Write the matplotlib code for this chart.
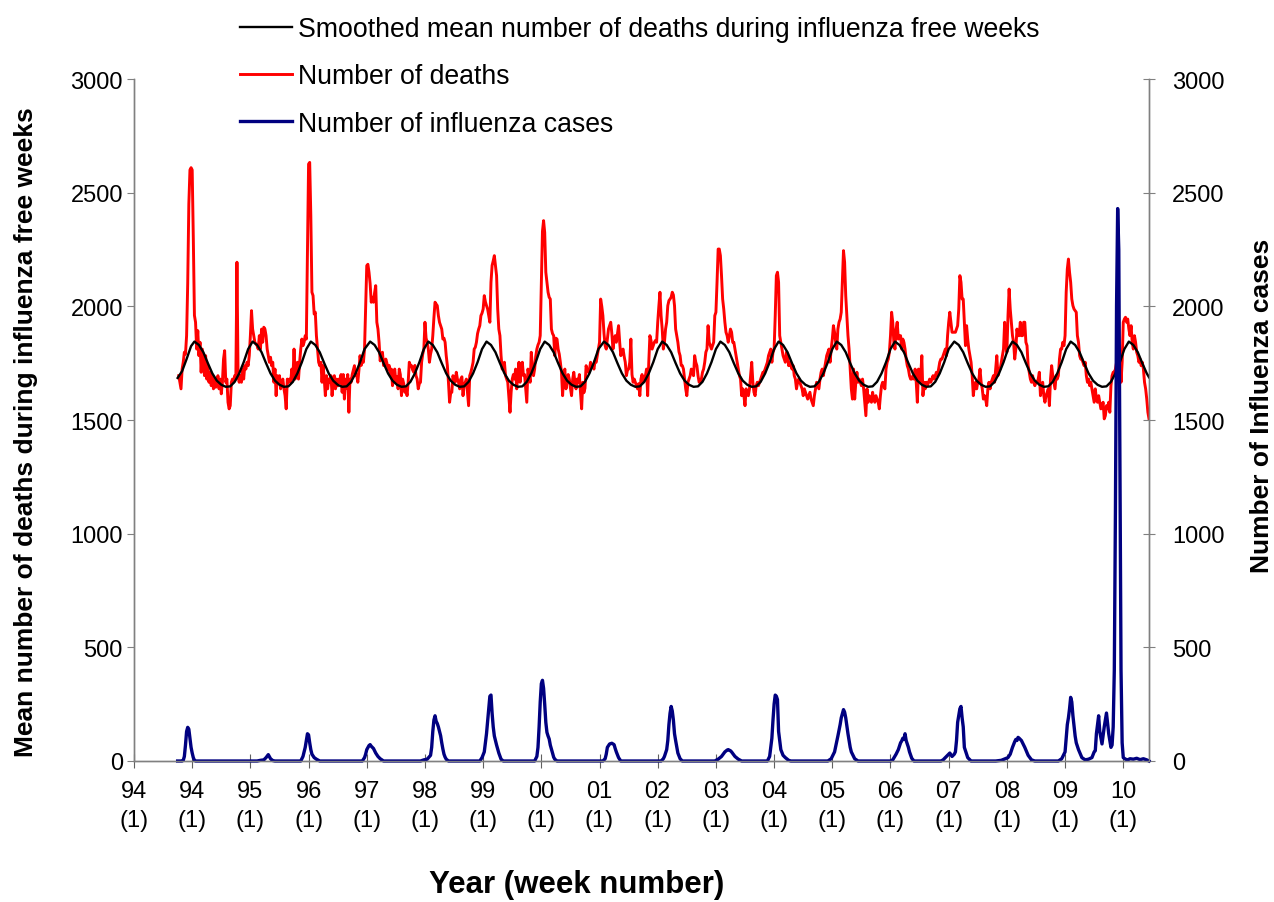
import numpy as np
import matplotlib.pyplot as plt

plt.rcParams['font.family'] = ['Liberation Sans', 'DejaVu Sans']

# week index: 0 = first tick on the x axis, 52 weeks per tick
# weekly number of deaths, weeks 40 .. 907
deaths = [
    1695, 1666, 1637, 1724, 1754, 1798, 1790, 1871, 2100, 2450,  # 40
    2600, 2610, 2600, 2300, 1960, 1930, 1812, 1893, 1783, 1842,  # 50
    1710, 1812, 1754, 1695, 1783, 1680, 1739, 1666, 1710, 1651,  # 60
    1695, 1637, 1680, 1644, 1666, 1695, 1637, 1680, 1615, 1666,  # 70
    1768, 1805, 1666, 1680, 1578, 1549, 1563, 1666, 1680, 1666,  # 80
    1695, 1680, 2194, 1695, 1666, 1695, 1666, 1724, 1680, 1739,  # 90
    1724, 1754, 1739, 1783, 1871, 1981, 1900, 1871, 1842, 1834,  # 100
    1827, 1812, 1871, 1812, 1900, 1842, 1908, 1900, 1871, 1812,  # 110
    1783, 1754, 1776, 1739, 1754, 1666, 1724, 1607, 1695, 1666,  # 120
    1695, 1637, 1666, 1680, 1637, 1607, 1549, 1680, 1666, 1680,  # 130
    1666, 1724, 1680, 1812, 1680, 1695, 1754, 1680, 1754, 1812,  # 140
    1856, 1827, 1842, 1871, 1856, 2252, 2626, 2633, 2399, 2062,  # 150
    2047, 1966, 1974, 1871, 1812, 1754, 1739, 1754, 1666, 1739,  # 160
    1680, 1607, 1695, 1637, 1680, 1666, 1695, 1607, 1666, 1695,  # 170
    1637, 1680, 1650, 1680, 1666, 1700, 1622, 1700, 1592, 1680,  # 180
    1640, 1700, 1534, 1680, 1666, 1700, 1720, 1739, 1695, 1700,  # 190
    1666, 1720, 1783, 1740, 1760, 1754, 1812, 1990, 2179, 2185,  # 200
    2150, 2100, 2018, 2040, 2018, 2060, 2091, 1930, 1900, 1842,  # 210
    1760, 1790, 1798, 1740, 1739, 1768, 1750, 1724, 1740, 1700,  # 220
    1724, 1651, 1700, 1724, 1666, 1690, 1637, 1724, 1700, 1607,  # 230
    1680, 1660, 1622, 1640, 1607, 1666, 1754, 1740, 1739, 1720,  # 240
    1710, 1740, 1695, 1680, 1637, 1660, 1666, 1754, 1790, 1812,  # 250
    1930, 1860, 1842, 1812, 1754, 1790, 1812, 1871, 1950, 2018,  # 260
    2010, 2003, 1959, 1930, 1915, 1900, 1856, 1860, 1842, 1783,  # 270
    1740, 1666, 1578, 1620, 1622, 1695, 1680, 1666, 1710, 1680,  # 280
    1666, 1637, 1680, 1690, 1607, 1650, 1666, 1680, 1620, 1563,  # 290
    1695, 1710, 1730, 1754, 1812, 1820, 1842, 1880, 1900, 1915,  # 300
    1959, 1970, 1988, 2047, 2020, 2003, 1988, 1959, 1930, 2106,  # 310
    2180, 2200, 2223, 2180, 2135, 1988, 1900, 1871, 1783, 1724,  # 320
    1740, 1754, 1695, 1680, 1666, 1600, 1534, 1622, 1680, 1700,  # 330
    1680, 1724, 1637, 1700, 1754, 1666, 1740, 1754, 1695, 1700,  # 340
    1640, 1578, 1724, 1700, 1666, 1798, 1740, 1695, 1724, 1780,  # 350
    1812, 1830, 1842, 1871, 2106, 2330, 2377, 2325, 2150, 2106,  # 360
    2062, 2040, 2032, 1900, 1880, 1871, 1783, 1860, 1856, 1812,  # 370
    1790, 1754, 1710, 1607, 1700, 1724, 1637, 1666, 1700, 1680,  # 380
    1640, 1607, 1680, 1710, 1666, 1637, 1680, 1666, 1700, 1620,  # 390
    1549, 1666, 1620, 1640, 1739, 1720, 1710, 1724, 1754, 1730,  # 400
    1739, 1724, 1760, 1754, 1783, 1812, 1842, 2032, 2000, 1959,  # 410
    1880, 1827, 1812, 1856, 1900, 1915, 1930, 1880, 1812, 1850,  # 420
    1871, 1842, 1880, 1915, 1842, 1783, 1800, 1812, 1780, 1754,  # 430
    1695, 1720, 1724, 1754, 1856, 1700, 1666, 1680, 1666, 1651,  # 440
    1637, 1660, 1607, 1680, 1700, 1666, 1680, 1695, 1724, 1607,  # 450
    1754, 1871, 1850, 1812, 1827, 1842, 1850, 1842, 1930, 2000,  # 460
    2062, 1960, 1900, 1812, 1842, 1900, 1930, 2003, 2025, 2032,  # 470
    2040, 2062, 2050, 2003, 1900, 1871, 1842, 1800, 1783, 1740,  # 480
    1739, 1724, 1680, 1637, 1607, 1666, 1680, 1695, 1724, 1710,  # 490
    1695, 1783, 1754, 1739, 1695, 1666, 1666, 1680, 1710, 1724,  # 500
    1754, 1798, 1812, 1915, 1842, 1827, 1812, 1827, 1842, 1959,  # 510
    1974, 2106, 2252, 2252, 2223, 2135, 2032, 1988, 1930, 1886,  # 520
    1871, 1842, 1871, 1900, 1886, 1842, 1842, 1812, 1783, 1754,  # 530
    1724, 1695, 1680, 1607, 1637, 1607, 1563, 1637, 1622, 1607,  # 540
    1637, 1695, 1754, 1666, 1622, 1607, 1651, 1666, 1651, 1666,  # 550
    1680, 1695, 1710, 1710, 1724, 1739, 1754, 1783, 1798, 1812,  # 560
    1754, 1798, 1812, 1959, 2135, 2150, 2106, 1871, 1842, 1812,  # 570
    1783, 1768, 1754, 1798, 1783, 1739, 1754, 1739, 1724, 1739,  # 580
    1695, 1680, 1637, 1666, 1680, 1666, 1651, 1637, 1607, 1637,  # 590
    1622, 1607, 1592, 1607, 1622, 1592, 1578, 1563, 1607, 1637,  # 600
    1666, 1651, 1637, 1680, 1710, 1724, 1695, 1724, 1754, 1783,  # 610
    1798, 1812, 1754, 1812, 1856, 1915, 1886, 1842, 1812, 1900,  # 620
    1930, 1944, 1974, 2106, 2245, 2194, 2047, 1959, 1871, 1812,  # 630
    1724, 1637, 1592, 1724, 1592, 1666, 1710, 1666, 1680, 1666,  # 640
    1651, 1680, 1637, 1578, 1519, 1637, 1578, 1607, 1592, 1578,  # 650
    1622, 1592, 1578, 1607, 1592, 1578, 1549, 1607, 1651, 1666,  # 660
    1651, 1637, 1724, 1754, 1768, 1798, 1871, 1974, 1930, 1842,  # 670
    1812, 1900, 1930, 1856, 1871, 1871, 1812, 1856, 1842, 1812,  # 680
    1768, 1739, 1724, 1695, 1680, 1680, 1695, 1680, 1724, 1666,  # 690
    1578, 1724, 1666, 1695, 1783, 1607, 1666, 1637, 1666, 1651,  # 700
    1666, 1680, 1666, 1680, 1695, 1680, 1695, 1710, 1695, 1724,  # 710
    1754, 1768, 1768, 1783, 1798, 1812, 1783, 1871, 1930, 1974,  # 720
    1930, 1886, 1886, 1886, 1886, 1900, 1915, 1988, 2135, 2106,  # 730
    2032, 2032, 1930, 1827, 1915, 1856, 1812, 1783, 1754, 1695,  # 740
    1607, 1651, 1666, 1637, 1666, 1680, 1724, 1666, 1637, 1592,  # 750
    1607, 1592, 1563, 1637, 1666, 1637, 1666, 1680, 1695, 1666,  # 760
    1724, 1783, 1695, 1724, 1724, 1754, 1783, 1812, 1930, 1842,  # 770
    1798, 1959, 2076, 1988, 1930, 1871, 1842, 1768, 1812, 1900,  # 780
    1871, 1871, 1930, 1871, 1871, 1930, 1930, 1842, 1827, 1739,  # 790
    1710, 1680, 1666, 1695, 1666, 1651, 1666, 1666, 1680, 1710,  # 800
    1607, 1651, 1666, 1607, 1578, 1607, 1622, 1637, 1563, 1680,  # 810
    1739, 1695, 1666, 1637, 1695, 1680, 1695, 1768, 1812, 1812,  # 820
    1842, 1827, 1871, 2062, 2164, 2208, 2150, 2106, 2032, 2003,  # 830
    1988, 1981, 1974, 1871, 1842, 1783, 1768, 1768, 1754, 1739,  # 840
    1754, 1695, 1666, 1680, 1651, 1666, 1637, 1607, 1578, 1637,  # 850
    1592, 1578, 1607, 1578, 1549, 1563, 1578, 1505, 1519, 1563,  # 860
    1549, 1578, 1534, 1651, 1695, 1710, 1710, 1724, 1754, 1783,  # 870
    1812, 1798, 1666, 1754, 1930, 1944, 1952, 1930, 1944, 1900,  # 880
    1871, 1915, 1842, 1812, 1871, 1842, 1798, 1783, 1754, 1768,  # 890
    1739, 1754, 1724, 1666, 1637, 1592, 1534, 1505,              # 900
]
death_weeks = np.arange(40, 40 + len(deaths))

# smoothed mean (influenza free weeks), read every 4 weeks
smooth_weeks = [
    39, 43, 47, 51,
    54, 58, 62, 66, 70, 74, 78, 82, 86, 90, 94, 98, 102,
    106, 110, 114, 118, 122, 126, 130, 134, 138, 142, 146, 150, 154,
    158, 162, 166, 170, 174, 178, 182, 186, 190, 194, 198, 202, 206,
    211, 215, 219, 223, 227, 231, 235, 239, 243, 247, 251, 255, 259,
    263, 267, 271, 275, 279, 283, 287, 291, 295, 299, 303, 307, 311,
    315, 319, 323, 327, 331, 335, 339, 343, 347, 351, 355, 359, 363,
    367, 371, 375, 379, 383, 387, 391, 395, 399, 403, 407, 411, 415,
    420, 424, 428, 432, 436, 440, 444, 448, 452, 456, 460, 464, 468,
    472, 476, 480, 484, 488, 492, 496, 500, 504, 508, 512, 516, 520,
    524, 528, 532, 536, 540, 544, 548, 552, 556, 560, 564, 568, 572,
    576, 580, 584, 588, 592, 596, 600, 604, 608, 612, 616, 620, 624,
    628, 632, 636, 640, 644, 648, 652, 656, 660, 664, 668, 672, 676,
    680, 684, 688, 692, 696, 700, 704, 708, 712, 716, 720, 724, 728,
    733, 737, 741, 745, 749, 753, 757, 761, 765, 769, 773, 777, 781,
    785, 789, 793, 797, 801, 805, 809, 813, 817, 821, 825, 829, 833,
    837, 841, 845, 849, 853, 857, 861, 865, 869, 873, 877, 881, 885,
    889, 893, 897, 901, 905, 907,
]
smooth_deaths = [
    1685, 1715, 1768, 1825,
    1845, 1830, 1798, 1750, 1705, 1673, 1655, 1646, 1648, 1668, 1705, 1754, 1812,
    1845, 1830, 1798, 1750, 1705, 1673, 1655, 1646, 1648, 1668, 1705, 1754, 1812,
    1845, 1830, 1798, 1750, 1705, 1673, 1655, 1646, 1648, 1668, 1705, 1754, 1812,
    1845, 1830, 1798, 1750, 1705, 1673, 1655, 1646, 1648, 1668, 1705, 1754, 1812,
    1845, 1830, 1798, 1750, 1705, 1673, 1655, 1646, 1648, 1668, 1705, 1754, 1812,
    1845, 1830, 1798, 1750, 1705, 1673, 1655, 1646, 1648, 1668, 1705, 1754, 1812,
    1845, 1830, 1798, 1750, 1705, 1673, 1655, 1646, 1648, 1668, 1705, 1754, 1812,
    1845, 1830, 1798, 1750, 1705, 1673, 1655, 1646, 1648, 1668, 1705, 1754, 1812,
    1845, 1830, 1798, 1750, 1705, 1673, 1655, 1646, 1648, 1668, 1705, 1754, 1812,
    1845, 1830, 1798, 1750, 1705, 1673, 1655, 1646, 1648, 1668, 1705, 1754, 1812,
    1845, 1830, 1798, 1750, 1705, 1673, 1655, 1646, 1648, 1668, 1705, 1754, 1812,
    1845, 1830, 1798, 1750, 1705, 1673, 1655, 1646, 1648, 1668, 1705, 1754, 1812,
    1845, 1830, 1798, 1750, 1705, 1673, 1655, 1646, 1648, 1668, 1705, 1754, 1812,
    1845, 1830, 1798, 1750, 1705, 1673, 1655, 1646, 1648, 1668, 1705, 1754, 1812,
    1845, 1830, 1798, 1750, 1705, 1673, 1655, 1646, 1648, 1668, 1705, 1754, 1812,
    1845, 1830, 1798, 1750, 1705, 1673, 1655, 1646, 1648, 1668, 1705, 1754, 1812,
    1845, 1830, 1798, 1750, 1705, 1688,
]

# influenza cases (right axis); flat zero stretches only have end points
flu_weeks = [
    39, 43, 44, 45, 46, 47, 48, 49, 50, 51, 52, 53, 54, 55,
    110, 113, 116, 118, 120, 122, 124, 126,
    149, 151, 153, 154, 155, 156, 157, 158, 159, 161, 163, 166,
    204, 206, 207, 208, 210, 211, 212, 214, 216, 218, 220, 223,
    256, 259, 262, 265, 266, 267, 268, 269, 270, 271, 272, 273, 274, 275, 276, 277, 278, 279, 281,
    309, 311, 313, 315, 317, 318, 319, 320, 321, 322, 324, 326, 328, 330,
    358, 360, 361, 362, 363, 364, 365, 366, 367, 368, 369, 370, 371, 372, 373, 374, 375, 376, 378,
    419, 421, 422, 423, 425, 427, 429, 430, 431, 433, 435,
    471, 473, 474, 476, 477, 478, 479, 480, 481, 482, 483, 484, 486, 488, 490,
    519, 522, 525, 528, 530, 531, 533, 534, 537, 540, 543,
    566, 568, 570, 571, 572, 573, 574, 575, 576, 578, 580, 582, 585, 587,
    620, 623, 626, 629, 631, 632, 634, 635, 636, 638, 640, 641, 644, 647,
    676, 678, 681, 683, 685, 686, 687, 688, 689, 690, 692, 693, 695, 697,
    721, 723, 727, 729, 731, 733, 734, 735, 736, 738, 739, 740, 741, 742, 745, 748,
    770, 775, 781, 783, 785, 787, 788, 789, 790, 791, 793, 794, 796, 799, 802, 805,
    826, 829, 832, 833, 834, 835, 836, 837, 838, 839, 841, 842, 844, 847, 850, 853,
    856, 858, 859, 860, 862, 863, 865, 867, 869, 871, 873, 874, 875, 876, 877, 878,
    879, 880, 881, 882, 883, 884, 886, 888, 890, 893, 896, 899, 902, 905, 907,
]
flu_cases = [
    0, 0, 3, 20, 70, 130, 148, 140, 100, 60, 35, 15, 3, 0,
    0, 3, 5, 15, 28, 10, 2, 0,
    0, 20, 60, 90, 120, 115, 80, 50, 30, 15, 8, 0,
    0, 15, 30, 50, 68, 72, 65, 55, 35, 20, 10, 0,
    0, 5, 8, 25, 60, 130, 180, 199, 175, 165, 150, 130, 111, 80, 53, 30, 17, 8, 0,
    0, 15, 40, 120, 230, 285, 290, 210, 150, 110, 70, 35, 8, 0,
    0, 20, 60, 150, 260, 340, 355, 320, 250, 170, 126, 110, 97, 70, 53, 35, 17, 8, 0,
    0, 10, 30, 60, 75, 78, 72, 55, 40, 15, 0,
    0, 10, 20, 50, 90, 160, 210, 240, 220, 180, 120, 90, 35, 10, 0,
    0, 8, 20, 40, 48, 50, 45, 40, 20, 8, 0,
    0, 20, 100, 180, 250, 290, 285, 270, 130, 50, 25, 15, 3, 0,
    0, 10, 40, 110, 160, 190, 226, 215, 190, 120, 60, 40, 10, 0,
    0, 5, 30, 50, 80, 88, 100, 95, 120, 90, 60, 40, 12, 0,
    0, 5, 25, 35, 20, 30, 40, 90, 170, 230, 240, 190, 150, 60, 15, 0,
    0, 3, 15, 30, 60, 85, 95, 90, 104, 100, 90, 80, 60, 25, 5, 0,
    0, 10, 40, 100, 160, 190, 230, 280, 260, 200, 110, 80, 50, 15, 5, 8,
    15, 40, 45, 120, 199, 130, 75, 150, 211, 120, 60, 70, 150, 400, 1100, 2000,
    2430, 2250, 1300, 400, 80, 15, 8, 5, 10, 8, 12, 6, 10, 5, 0,
]

year_labels = ['94', '94', '95', '96', '97', '98', '99', '00', '01',
               '02', '03', '04', '05', '06', '07', '08', '09', '10']
tick_weeks = np.arange(len(year_labels)) * 52
y_ticks = [0, 500, 1000, 1500, 2000, 2500, 3000]

fig = plt.figure(figsize=(12.74, 9.03), dpi=100)
ax = fig.add_axes([134 / 1274, 141 / 903, 1015 / 1274, 682 / 903])
ax2 = ax.twinx()

l2, = ax.plot(death_weeks, deaths, color='#ff0000', lw=2.1, zorder=2)
l1, = ax.plot(smooth_weeks, smooth_deaths, color='black', lw=1.7, zorder=3)
l3, = ax2.plot(flu_weeks, flu_cases, color='#000080', lw=2.4, clip_on=False)

for a in (ax, ax2):
    a.set_xlim(0, 907)
    a.set_ylim(0, 3000)
    a.set_yticks(y_ticks)
    a.spines['top'].set_visible(False)
    for s in ('left', 'right', 'bottom'):
        a.spines[s].set_color('#808080')
        a.spines[s].set_linewidth(1.0)

ax.set_xticks(tick_weeks)
ax.set_xticklabels([y + '\n(1)' for y in year_labels], linespacing=1.4)
ax.tick_params(axis='x', direction='inout', length=10, color='#606060',
               labelsize=17, pad=9)
ax.tick_params(axis='y', direction='out', length=5, color='#808080',
               labelsize=17, pad=3)
ax2.tick_params(axis='y', direction='inout', length=9, color='#808080',
                labelsize=17, pad=12)

fig.text(26 / 1274, 1 - 432 / 903, 'Mean number of deaths during influenza free weeks',
         rotation=90, ha='center', va='center', fontsize=19, fontweight='bold')
fig.text(1262 / 1274, 1 - 406 / 903, 'Number of Influenza cases',
         rotation=90, ha='center', va='center', fontsize=19, fontweight='bold')
fig.text(577 / 1274, 1 - 885 / 903, 'Year (week number)',
         ha='center', va='center', fontsize=22.5, fontweight='bold')

fig.legend([l1, l2, l3],
           ['Smoothed mean number of deaths during influenza free weeks',
            'Number of deaths', 'Number of influenza cases'],
           loc='upper left', bbox_to_anchor=(240 / 1274, 1 - 17 / 903),
           frameon=False, fontsize=19.2, handlelength=1.95, handletextpad=0.22,
           labelspacing=0.8, borderpad=0, borderaxespad=0)

fig.savefig('out.png', dpi=100)
